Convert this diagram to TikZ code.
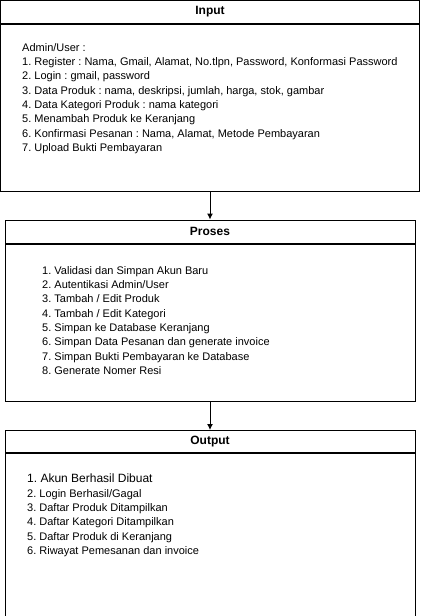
\documentclass[tikz,border=0pt]{standalone}
\usepackage{fontspec}
\setmainfont{Liberation Sans}
\usetikzlibrary{positioning,arrows.meta}
\frenchspacing

\tikzset{
  boxhead/.style={draw, line width=1pt, inner sep=0pt, font=\fontsize{12}{14}\selectfont\bfseries},
  boxbody/.style={draw, line width=1pt, inner sep=0pt},
  itemtext/.style={inner sep=0pt, anchor=north west, align=left, font=\fontsize{11}{14.35}\selectfont},
  flow/.style={line width=1pt, -{Latex[length=6pt,width=6pt]}}
}

\begin{document}
\begin{tikzpicture}[x=1pt,y=-1pt]

    \useasboundingbox (0,0) rectangle (421,616);

    % Input
    \node[boxhead, minimum width=419pt, minimum height=22.5pt] (inhead) at (210,11.75) {Input};
    \node[boxbody, minimum width=419pt, minimum height=167pt, below=0pt of inhead] (inbody) {};
    \node[itemtext] (intext) at (22,43) {Admin/User :\\
      1. Register : Nama, Gmail, Alamat, No.tlpn, Password, Konformasi Password\\
      2. Login : gmail, password\\
      3. Data Produk : nama, deskripsi, jumlah, harga, stok, gambar\\
      4. Data Kategori Produk : nama kategori\\
      5. Menambah Produk ke Keranjang\\
      6. Konfirmasi Pesanan : Nama, Alamat, Metode Pembayaran\\
      7. Upload Bukti Pembayaran};

    % Proses
    \node[boxhead, minimum width=410pt, minimum height=23pt] (prhead) at (210,231.5) {Proses};
    \node[boxbody, minimum width=410pt, minimum height=157pt, below=0pt of prhead] (prbody) {};
    \node[itemtext] (prtext) at (42,266) {1. Validasi dan Simpan Akun Baru\\
      2. Autentikasi Admin/User\\
      3. Tambah / Edit Produk\\
      4. Tambah / Edit Kategori\\
      5. Simpan ke Database Keranjang\\
      6. Simpan Data Pesanan dan generate invoice\\
      7. Simpan Bukti Pembayaran ke Database\\
      8. Generate Nomer Resi};

    % Output
    \node[boxhead, minimum width=410pt, minimum height=22pt] (outhead) at (210,441.5) {Output};
    \node[boxbody, minimum width=410pt, minimum height=162.5pt, below=0pt of outhead] (outbody) {};
    \node[itemtext] (outtext) at (27,474) {{\fontsize{12}{14.35}\selectfont 1. Akun Berhasil Dibuat}\\
      2. Login Berhasil/Gagal\\
      3. Daftar Produk Ditampilkan\\
      4. Daftar Kategori Ditampilkan\\
      5. Daftar Produk di Keranjang\\
      6. Riwayat Pemesanan dan invoice};

    \draw[flow] (inbody.south) -- (prhead.north);
    \draw[flow] (prbody.south) -- (outhead.north);

\end{tikzpicture}
\end{document}
